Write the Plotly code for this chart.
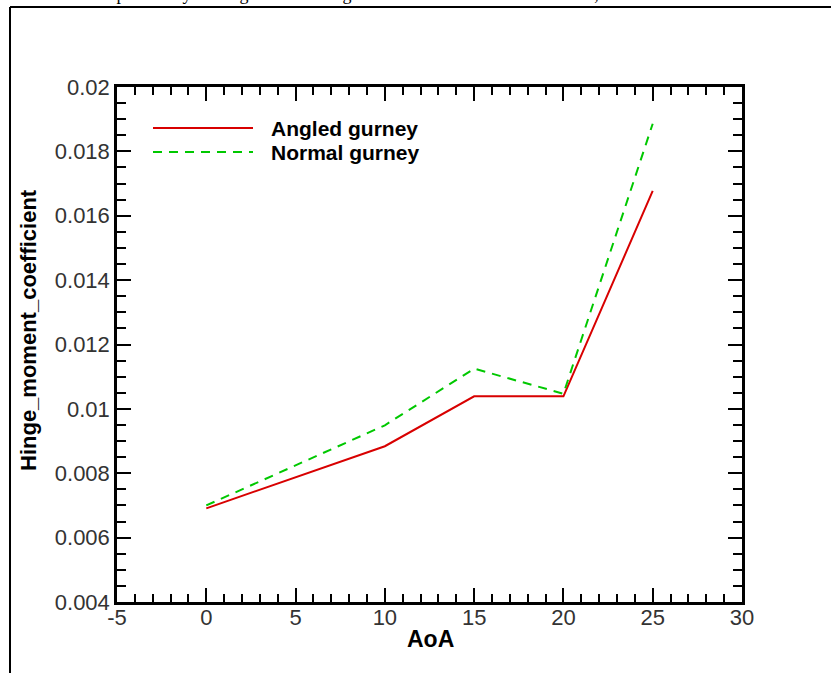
import plotly.graph_objects as go

# ---- data ----
aoa = [0, 10, 15, 20, 25]
angled_gurney = [0.00691, 0.00884, 0.01039, 0.01039, 0.01677]
normal_gurney = [0.00700, 0.00949, 0.01125, 0.01047, 0.01886]
series_names = ["Angled gurney", "Normal gurney"]
y_tickvals = [0.004, 0.006, 0.008, 0.01, 0.012, 0.014, 0.016, 0.018, 0.02]
y_ticktext = ["0.004", "0.006", "0.008", "0.01", "0.012", "0.014", "0.016", "0.018", "0.02"]
x_tickvals = [-5, 0, 5, 10, 15, 20, 25, 30]
x_ticktext = ["-5", "0", "5", "10", "15", "20", "25", "30"]
top_text = "could increase the possibility of fatigue or cracking issues on the wind turbine blades, which would reduce"

W, H = 831, 673
L, R, T, B = 117, 742, 87, 602  # plot area in px

def px(xp):
    return (xp - L) / (R - L)

def py(yp):
    return (B - yp) / (B - T)

RED = "#d80000"
GREEN = "#00c800"

fig = go.Figure()
fig.add_trace(go.Scatter(x=aoa, y=angled_gurney, mode="lines", name=series_names[0],
                         line=dict(color=RED, width=2)))
fig.add_trace(go.Scatter(x=aoa, y=normal_gurney, mode="lines", name=series_names[1],
                         line=dict(color=GREEN, width=2, dash="9px,7px")))

tickfont = dict(family="Liberation Sans, Arial", size=22, color="#333333")
axis_common = dict(showgrid=False, zeroline=False, showline=True, linecolor="black",
                   linewidth=2.5, mirror="allticks", ticks="inside", ticklen=14,
                   tickwidth=2, tickcolor="black", tickfont=tickfont)

fig.update_xaxes(range=[-5, 30], tickmode="array", tickvals=x_tickvals, ticktext=x_ticktext,
                 ticklabelstandoff=-6,
                 minor=dict(dtick=1, ticks="inside", ticklen=8, tickwidth=1.5, tickcolor="black"),
                 **axis_common)
fig.update_yaxes(range=[0.004, 0.02], tickmode="array", tickvals=y_tickvals, ticktext=y_ticktext,
                 minor=dict(dtick=0.0005, ticks="inside", ticklen=9, tickwidth=1.5, tickcolor="black"),
                 **axis_common)

shapes = [
    # outer frame
    dict(type="line", xref="paper", yref="paper", x0=px(10), x1=px(W + 5), y0=py(7), y1=py(7),
         line=dict(color="black", width=2)),
    dict(type="line", xref="paper", yref="paper", x0=px(10), x1=px(10), y0=py(7), y1=py(H + 5),
         line=dict(color="black", width=2)),
    # legend lines
    dict(type="line", xref="paper", yref="paper", x0=px(153), x1=px(253), y0=py(128), y1=py(128),
         line=dict(color=RED, width=2)),
    dict(type="line", xref="paper", yref="paper", x0=px(153), x1=px(253), y0=py(152), y1=py(152),
         line=dict(color=GREEN, width=2, dash="9px,7px")),
]

legfont = dict(family="Liberation Sans, Arial", size=21, color="black")
annotations = [
    dict(text="<b>" + series_names[0] + "</b>", xref="paper", yref="paper", x=px(269), y=py(128),
         xanchor="left", yanchor="middle", showarrow=False, font=legfont),
    dict(text="<b>" + series_names[1] + "</b>", xref="paper", yref="paper", x=px(269), y=py(152),
         xanchor="left", yanchor="middle", showarrow=False, font=legfont),
    dict(text="<b>Hinge_moment_coefficient</b>", xref="paper", yref="paper", x=px(28), y=py(330),
         xanchor="center", yanchor="middle", textangle=-90, showarrow=False,
         font=dict(family="Liberation Sans, Arial", size=22, color="black")),
    dict(text="<b>AoA</b>", xref="paper", yref="paper", x=px(430), y=py(639),
         xanchor="center", yanchor="middle", showarrow=False,
         font=dict(family="Liberation Sans, Arial", size=23, color="black")),
    dict(text=top_text, xref="paper", yref="paper", x=px(-19), y=py(7), xanchor="left",
         yanchor="bottom", showarrow=False, borderpad=0, yshift=2,
         font=dict(family="Liberation Serif, Times New Roman", size=18, color="black")),
]

fig.update_layout(width=W, height=H, margin=dict(l=L, r=W - R, t=T, b=H - B),
                  paper_bgcolor="white", plot_bgcolor="white", showlegend=False,
                  shapes=shapes, annotations=annotations)

fig.write_html("out.html")
